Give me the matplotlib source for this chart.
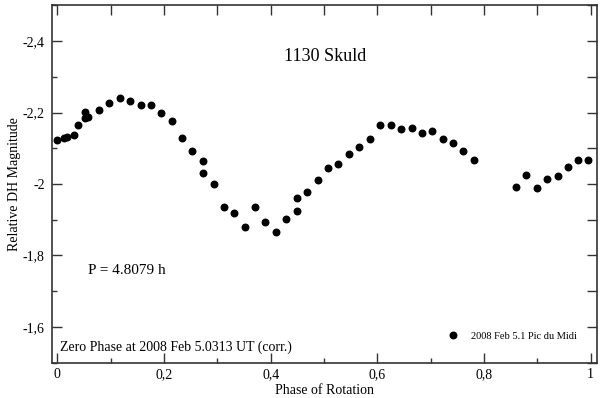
import numpy as np
import matplotlib
matplotlib.use('Agg')
import matplotlib.pyplot as plt
from matplotlib.ticker import MultipleLocator, FuncFormatter

plt.rcParams['font.family'] = ['Liberation Serif', 'DejaVu Serif']

# Lightcurve data (phase, relative magnitude)
phase = [0.000, 0.013, 0.018, 0.032, 0.039, 0.052, 0.052, 0.058, 0.078, 0.097,
         0.117, 0.136, 0.156, 0.175, 0.195, 0.215, 0.234, 0.253, 0.273, 0.273,
         0.293, 0.313, 0.331, 0.351, 0.370, 0.390, 0.410, 0.429, 0.449, 0.449,
         0.468, 0.488, 0.508, 0.527, 0.547, 0.566, 0.586, 0.605, 0.625, 0.645,
         0.665, 0.684, 0.703, 0.723, 0.742, 0.761, 0.781,
         0.860, 0.878, 0.899, 0.918, 0.938, 0.957, 0.976, 0.996]
mag = [-2.124, -2.128, -2.132, -2.136, -2.166, -2.201, -2.185, -2.188, -2.206, -2.226,
       -2.240, -2.231, -2.220, -2.220, -2.198, -2.175, -2.130, -2.091, -2.065, -2.031,
       -2.000, -1.935, -1.918, -1.879, -1.935, -1.894, -1.867, -1.901, -1.924, -1.962,
       -1.979, -2.010, -2.045, -2.056, -2.084, -2.103, -2.127, -2.166, -2.164, -2.155,
       -2.156, -2.143, -2.148, -2.125, -2.114, -2.093, -2.068,
       -1.992, -2.024, -1.990, -2.014, -2.023, -2.048, -2.066, -2.066]

title = '1130 Skuld'
period_txt = 'P = 4.8079 h'
zero_txt = 'Zero Phase at 2008 Feb 5.0313 UT (corr.)'
series_label = '2008 Feb 5.1 Pic du Midi'

fig = plt.figure(figsize=(6, 3.98), dpi=100)
ax = fig.add_axes([0.0862, 0.0887, 0.9088, 0.898])

ax.plot(phase, mag, 'o', color='black', markersize=4.7, label=series_label)

ax.set_xlim(-0.0105, 1.012)
ax.set_ylim(-1.5, -2.5)

comma = FuncFormatter(lambda v, p: ('%g' % round(v, 2)).replace('.', ','))
ax.xaxis.set_major_locator(MultipleLocator(0.2))
ax.xaxis.set_minor_locator(MultipleLocator(0.1))
ax.yaxis.set_major_locator(MultipleLocator(0.2))
ax.yaxis.set_minor_locator(MultipleLocator(0.1))
ax.xaxis.set_major_formatter(comma)
ax.yaxis.set_major_formatter(comma)

spine_col = '#333333'
for s in ax.spines.values():
    s.set_linewidth(1.2)
    s.set_color(spine_col)

ax.tick_params(which='both', direction='in', color=spine_col, width=1.0,
               top=False, right=False, labelsize=10)
ax.tick_params(which='major', length=7.2)
ax.tick_params(which='minor', length=3.6)
ax.tick_params(axis='x', pad=4)
ax.tick_params(axis='y', pad=5)

# top and right ticks, all same length
top = ax.secondary_xaxis('top')
top.xaxis.set_major_locator(MultipleLocator(0.1))
top.tick_params(direction='in', length=7.2, width=1.0, color=spine_col, labeltop=False)
top.spines['top'].set_visible(False)
right = ax.secondary_yaxis('right')
right.yaxis.set_major_locator(MultipleLocator(0.1))
right.tick_params(direction='in', length=7.2, width=1.0, color=spine_col, labelright=False)
right.spines['right'].set_visible(False)

ax.set_xlabel('Phase of Rotation', fontsize=10, labelpad=2)
ax.set_ylabel('Relative DH Magnitude', fontsize=10)
ax.yaxis.set_label_coords(-0.056, 0.5)

ax.text(0.502, -2.357, title, fontsize=13, ha='center', va='center')
ax.text(0.0576, -1.757, period_txt, fontsize=11, ha='left', va='center')
ax.text(0.005, -1.544, zero_txt, fontsize=10, ha='left', va='center')

ax.legend(loc='center left', bbox_to_anchor=(0.7264, 0.0747), frameon=False,
          fontsize=7.5, handlelength=1, handletextpad=1.2, borderpad=0,
          borderaxespad=0)

fig.savefig('out.png', dpi=100)
